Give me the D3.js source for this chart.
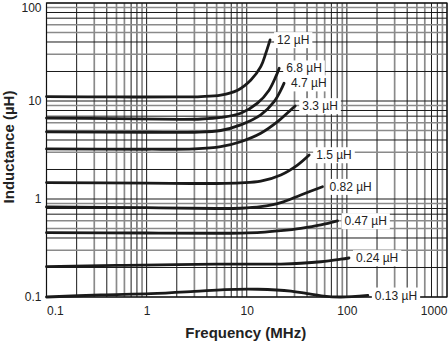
<!DOCTYPE html>
<html><head><meta charset="utf-8">
<script src="https://cdn.jsdelivr.net/npm/d3@7"></script>
<style>body{margin:0;background:#fff}svg{display:block}text{font-family:"Liberation Sans",Arial,sans-serif}</style>
</head><body><svg id="c" width="448" height="342"></svg>
<script>
// ---- data (frequency MHz, inductance µH) ----
const xTickValues = [0.1, 1, 10, 100, 1000];
const yTickValues = [0.1, 1, 10, 100];
const seriesNames = ["12 µH","6.8 µH","4.7 µH","3.3 µH","1.5 µH","0.82 µH","0.47 µH","0.24 µH","0.13 µH"];
const curve12 = [[0.1,11.1],[0.5,11.0],[2,11.0],[3.5,11.1],[5.5,11.5],[8.1,12.9],[11,16.4],[13.8,22.4],[15.5,30.7],[17.1,42]];
const curve6p8 = [[0.1,6.7],[0.5,6.6],[2.2,6.5],[3.5,6.55],[5.5,6.8],[8.7,7.5],[12.8,9.5],[16.7,12.9],[19.5,17.7],[21.1,21.6]];
const curve4p7 = [[0.1,4.85],[1,4.8],[3,4.8],[5.5,5.0],[8.7,5.7],[13.8,7.2],[18.75,9.84],[21.9,12.9],[23.6,15.2]];
const curve3p3 = [[0.1,3.24],[1,3.22],[3,3.25],[5.5,3.42],[8.7,3.84],[13.8,4.68],[20.3,6.15],[27.5,8.1],[30.5,8.9]];
const curve1p5 = [[0.1,1.47],[1,1.45],[5,1.44],[8.7,1.46],[13.8,1.52],[21.9,1.76],[32.1,2.22],[42,2.81]];
const curve0p82 = [[0.1,0.83],[1,0.815],[5,0.80],[8.7,0.805],[13.8,0.834],[21.9,0.917],[34.7,1.1],[57.1,1.335]];
const curve0p47 = [[0.1,0.453],[1,0.45],[5,0.447],[8.7,0.449],[13.8,0.456],[21.9,0.475],[34.7,0.502],[55,0.543],[80.7,0.597]];
const curve0p24 = [[0.1,0.204],[0.5,0.21],[2,0.214],[5,0.216],[8.7,0.217],[13.8,0.216],[21.9,0.217],[34.7,0.221],[55,0.229],[87.1,0.243],[105,0.25]];
const curve0p13 = [[0.1,0.1],[0.35,0.105],[1.1,0.108],[3,0.114],[6,0.119],[12.9,0.12],[27.6,0.115],[40.3,0.108],[58.5,0.102],[87.7,0.1],[162,0.104]];
const curves = [curve12,curve6p8,curve4p7,curve3p3,curve1p5,curve0p82,curve0p47,curve0p24,curve0p13];

// ---- layout ----
const L = 46.5, R = 447, T = 3, B = 297;
const svg = d3.select("#c");
const x = d3.scaleLog().domain([0.1, 1000]).range([L, R]);
const y = d3.scaleLog().domain([0.1, 100]).range([B, T]);

const isBlack = v => { const k = Math.round(v / Math.pow(10, Math.floor(Math.log10(v) + 1e-9))); return [1,2,4,7,8].includes(k); };

// gridlines
const g = svg.append("g");
x.ticks().forEach(v => {
  const b = isBlack(v);
  g.append("line").attr("x1", x(v)).attr("x2", x(v)).attr("y1", T).attr("y2", B)
   .attr("stroke", b ? "#1a1a1a" : "#8a8a8a").attr("stroke-width", b ? 1 : 1.7);
});
y.ticks().forEach(v => {
  const b = isBlack(v);
  g.append("line").attr("y1", y(v)).attr("y2", y(v)).attr("x1", L).attr("x2", R)
   .attr("stroke", b ? "#1a1a1a" : "#8a8a8a").attr("stroke-width", b ? 1 : 1.7);
});
svg.append("rect").attr("x", L).attr("y", T).attr("width", R - L).attr("height", B - T)
  .attr("fill", "none").attr("stroke", "#111").attr("stroke-width", 1.2);

// axes (labels only)
const fmt = d => String(d);
const xAxis = d3.axisBottom(x).tickValues(xTickValues).tickFormat(fmt).tickSize(0).tickPadding(9);
const xa = svg.append("g").attr("transform", `translate(0,${B})`).call(xAxis);
xa.select(".domain").remove();
xa.selectAll("text").attr("font-size", 12).attr("fill", "#222").style("font-family", "Liberation Sans, Arial, sans-serif")
  .attr("text-anchor", (d, i) => i === 0 ? "start" : (i === xTickValues.length - 1 ? "end" : "middle"));
const yAxis = d3.axisLeft(y).tickValues(yTickValues).tickFormat(fmt).tickSize(0).tickPadding(5);
const ya = svg.append("g").attr("transform", `translate(${L},0)`).call(yAxis);
ya.select(".domain").remove();
ya.selectAll("text").attr("font-size", 12).attr("fill", "#222").style("font-family", "Liberation Sans, Arial, sans-serif");
ya.selectAll(".tick").filter(d => d === 100).select("text").attr("dy", "0.7em");

// curves
const line = d3.line().x(d => x(d[0])).y(d => y(d[1])).curve(d3.curveCatmullRom.alpha(0.5));
curves.forEach(c => {
  svg.append("path").attr("d", line(c)).attr("fill", "none").attr("stroke", "#1a1a1a")
    .attr("stroke-width", 2.8).attr("stroke-linecap", "round");
});

// labels
curves.forEach((c, i) => {
  const e = c[c.length - 1];
  const tx = x(e[0]) + 7, ty = y(e[1]);
  const t = svg.append("text").attr("x", tx).attr("y", ty).attr("dy", "0.35em")
    .attr("font-size", 12).attr("fill", "#222").text(seriesNames[i]);
  const bb = t.node().getBBox();
  svg.insert("rect", () => t.node()).attr("x", bb.x - 3).attr("y", bb.y - 1)
    .attr("width", bb.width + 6).attr("height", bb.height + 2).attr("fill", "#fff");
});

// titles
svg.append("text").attr("x", (L + R) / 2 - 1).attr("y", 338).attr("text-anchor", "middle")
  .attr("font-size", 15).attr("font-weight", "bold").attr("fill", "#222").text("Frequency (MHz)");
svg.append("text").attr("transform", `translate(14,${(T + B) / 2 - 3}) rotate(-90)`).attr("text-anchor", "middle")
  .attr("font-size", 15).attr("font-weight", "bold").attr("fill", "#222").text("Inductance (µH)");
</script></body></html>
